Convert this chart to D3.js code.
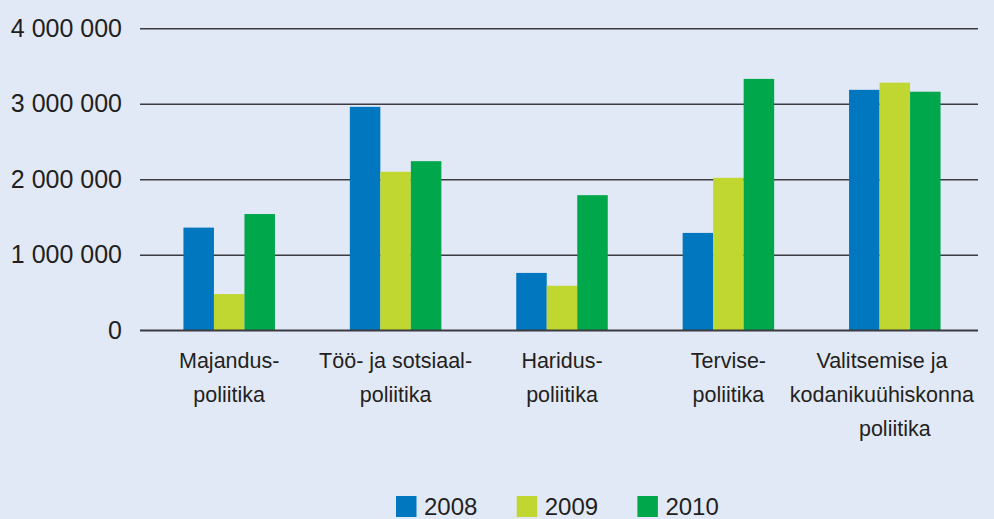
<!DOCTYPE html>
<html>
<head>
<meta charset="utf-8">
<script src="https://cdn.jsdelivr.net/npm/d3@7"></script>
<style>
  html, body { margin: 0; padding: 0; background: #e2e9f6; }
  svg { display: block; }
  text { font-family: "Liberation Sans", Arial, sans-serif; fill: #231f20; }
</style>
</head>
<body>
<svg id="chart" width="994" height="519"></svg>
<script>
// ---- data ----
const categories = [
  ["Majandus-", "poliitika"],
  ["Töö- ja sotsiaal-", "poliitika"],
  ["Haridus-", "poliitika"],
  ["Tervise-", "poliitika"],
  ["Valitsemise ja", "kodanikuühiskonna", "poliitika"]
];
const seriesNames = ["2008", "2009", "2010"];
const values2008 = [1360000, 2960000, 760000, 1290000, 3185000];
const values2009 = [480000, 2100000, 590000, 2020000, 3280000];
const values2010 = [1540000, 2240000, 1790000, 3330000, 3160000];
const yTicks = [0, 1000000, 2000000, 3000000, 4000000];
const colors = ["#0077bf", "#bfd730", "#00a74b"];

const seriesValues = [values2008, values2009, values2010];

const svg = d3.select("#chart");
const plot = { left: 140, right: 978, top: 28.3, bottom: 330.3 };

const y = d3.scaleLinear().domain([0, 4000000]).range([plot.bottom, plot.top]);
const catIdx = categories.map((d, i) => i);
const x0 = d3.scaleBand().domain(catIdx).range([146, 978]).paddingInner(0.45).paddingOuter(0.225);
const x1 = d3.scaleBand().domain(d3.range(seriesNames.length)).range([0, x0.bandwidth()]);

const fmt = v => d3.format(",")(v).replace(/,/g, " ");

// grid lines + tick labels
const yAxis = d3.axisLeft(y).tickValues(yTicks).tickSize(-(plot.right - plot.left)).tickFormat(fmt).tickPadding(18);
const gy = svg.append("g").attr("transform", `translate(${plot.left},0)`).call(yAxis);
gy.select(".domain").remove();
gy.selectAll(".tick line").attr("stroke", "#3b3b40").attr("stroke-width", 1.6);
gy.selectAll(".tick text").attr("font-size", 25).attr("fill", "#231f20")
  .attr("font-family", '"Liberation Sans", Arial, sans-serif');

// bars
const groups = svg.append("g").selectAll("g").data(catIdx).join("g")
  .attr("transform", i => `translate(${x0(i)},0)`);
groups.selectAll("rect")
  .data(i => seriesValues.map((vals, s) => ({ s, v: vals[i] })))
  .join("rect")
  .attr("x", d => x1(d.s))
  .attr("width", x1.bandwidth())
  .attr("y", d => y(d.v))
  .attr("height", d => y(0) - y(d.v))
  .attr("fill", d => colors[d.s]);

// zero line on top
svg.append("line").attr("x1", plot.left).attr("x2", plot.right)
  .attr("y1", y(0)).attr("y2", y(0)).attr("stroke", "#3b3b40").attr("stroke-width", 1.6);

// category labels
const labelG = svg.append("g");
categories.forEach((lines, i) => {
  const cx = x0(i) + x0.bandwidth() / 2;
  const t = labelG.append("text").attr("text-anchor", "middle").attr("font-size", 21.5);
  lines.forEach((ln, k) => {
    t.append("tspan").attr("x", cx).attr("y", 368 + k * 34).text(ln);
  });
  const bb = t.node().getBBox();
  const overflow = bb.x + bb.width - 974;
  if (overflow > 0) {
    t.selectAll("tspan").filter((d, k) => k < lines.length - 1)
      .attr("x", cx - overflow);
  }
});

// legend
const legend = svg.append("g");
seriesNames.forEach((name, s) => {
  const lx = 396 + s * 120.7;
  legend.append("rect").attr("x", lx).attr("y", 496).attr("width", 20.5).attr("height", 21).attr("fill", colors[s]);
  legend.append("text").attr("x", lx + 28).attr("y", 515).attr("font-size", 24).text(name);
});
</script>
</body>
</html>
